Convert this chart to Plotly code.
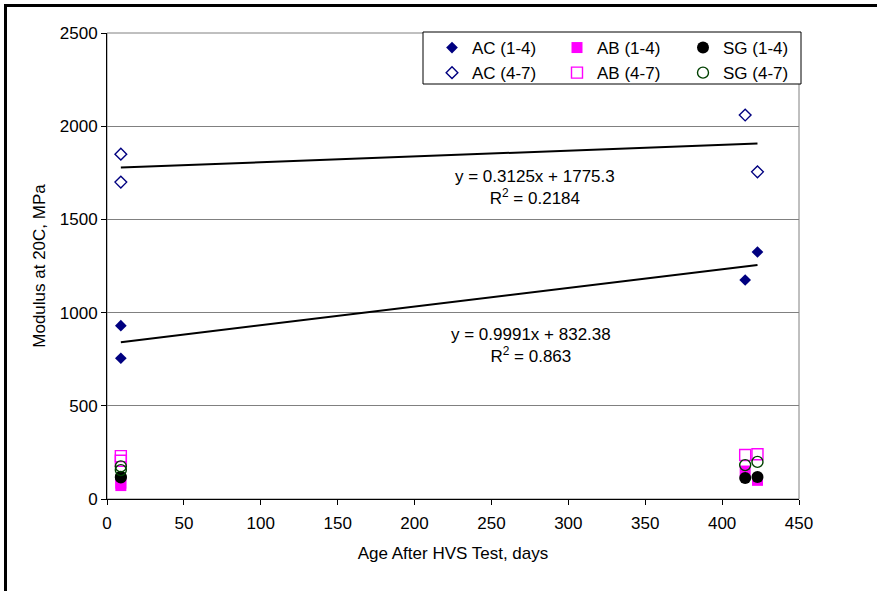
import plotly.graph_objects as go

# ---- data ----
ac14_x = [9, 9, 415, 423]
ac14_y = [930, 755, 1175, 1325]
ab14_x = [9, 9, 415, 423]
ab14_y = [85, 72, 150, 100]
sg14_x = [9, 9, 415, 423]
sg14_y = [120, 115, 113, 118]
ac47_x = [9, 9, 415, 423]
ac47_y = [1850, 1700, 2060, 1755]
ab47_x = [9, 9, 415, 423]
ab47_y = [230, 205, 236, 240]
sg47_x = [9, 9, 415, 423]
sg47_y = [175, 155, 182, 199]

trend_slope = [0.9991, 0.3125]
trend_intercept = [832.38, 1775.3]
trend_labels = ["y = 0.9991x + 832.38<br>R<sup>2</sup> = 0.863",
                "y = 0.3125x + 1775.3<br>R<sup>2</sup> = 0.2184"]

x_ticks = list(range(0, 451, 50))
y_ticks = list(range(0, 2501, 500))

FONT = "Liberation Sans, Arial, sans-serif"
FS = 17

fig = go.Figure()

def add(x, y, name, symbol, color, size, legend, fill=True):
    marker = dict(symbol=symbol, size=size, color=color)
    if not fill:
        marker["line"] = dict(color=color, width=1.4)
    fig.add_trace(go.Scatter(x=x, y=y, mode="markers", name=name, marker=marker,
                             legend=legend))

add(ac14_x, ac14_y, "AC (1-4)", "diamond", "#000080", 9, "legend")
add(ab14_x, ab14_y, "AB (1-4)", "square", "#FF00FF", 11, "legend2")
add(sg14_x, sg14_y, "SG (1-4)", "circle", "#000000", 12, "legend3")
add(ac47_x, ac47_y, "AC (4-7)", "diamond-open", "#000080", 9, "legend", fill=False)
add(ab47_x, ab47_y, "AB (4-7)", "square-open", "#FF00FF", 11, "legend2", fill=False)
add(sg47_x, sg47_y, "SG (4-7)", "circle-open", "#004000", 11, "legend3", fill=False)

# trend lines
trend_sets = [ac14_x, ac47_x]
for xs, m, b in zip(trend_sets, trend_slope, trend_intercept):
    x0, x1 = min(xs), max(xs)
    fig.add_trace(go.Scatter(x=[x0, x1], y=[m * x0 + b, m * x1 + b], mode="lines",
                             line=dict(color="black", width=2), showlegend=False,
                             hoverinfo="skip"))

# equation labels
label_pos = [(276, 826), (278, 1671)]
for (lx, ly), txt in zip(label_pos, trend_labels):
    fig.add_annotation(x=lx, y=ly, xref="x", yref="y", text=txt, showarrow=False,
                       font=dict(family=FONT, size=FS, color="black"), align="center")

W, H = 877, 591
L, R, T, B = 107, 78, 33, 92
pw, ph = W - L - R, H - T - B

def px_x(p):
    return (p - L) / pw

def px_y(p):
    return 1 - (p - T) / ph

shapes = [
    # plot-area border (grey)
    dict(type="rect", xref="paper", yref="paper", x0=0, x1=1, y0=0, y1=1,
         line=dict(color="#808080", width=1), layer="below"),
    # outer chart frame
    dict(type="rect", xref="paper", yref="paper", x0=px_x(5.5), x1=px_x(1200),
         y0=px_y(900), y1=px_y(5.5), line=dict(color="black", width=3), layer="below"),
    # legend box
    dict(type="rect", xref="paper", yref="paper", x0=px_x(423), x1=px_x(801),
         y0=px_y(84), y1=px_y(32), line=dict(color="black", width=1),
         fillcolor="white", layer="above"),
]

leg_common = dict(orientation="v", bgcolor="rgba(0,0,0,0)", borderwidth=0,
                  font=dict(family=FONT, size=FS, color="black"),
                  xanchor="left", yanchor="top", tracegroupgap=0,
                  y=px_y(30))

fig.update_layout(
    width=W, height=H,
    margin=dict(l=L, r=R, t=T, b=B, pad=0),
    paper_bgcolor="white", plot_bgcolor="white",
    font=dict(family=FONT, size=FS, color="black"),
    shapes=shapes,
    legend=dict(leg_common, x=px_x(432)),
    legend2=dict(leg_common, x=px_x(557)),
    legend3=dict(leg_common, x=px_x(683)),
    xaxis=dict(range=[0, 450], tickvals=x_ticks, ticktext=[str(v) for v in x_ticks],
               showgrid=False, zeroline=False, showline=True, linecolor="black",
               linewidth=1, ticks="outside", ticklen=5, tickcolor="black",
               ticklabelstandoff=4,
               tickfont=dict(family=FONT, size=FS, color="black"),
               title=dict(text="Age After HVS Test, days", standoff=14,
                          font=dict(family=FONT, size=FS, color="black"))),
    yaxis=dict(range=[0, 2500], tickvals=y_ticks, ticktext=[str(v) for v in y_ticks],
               showgrid=True, gridcolor="#808080", gridwidth=1, zeroline=False,
               showline=True, linecolor="black", linewidth=1, ticks="outside",
               ticklen=5, tickcolor="black",
               tickfont=dict(family=FONT, size=FS, color="black"),
               title=dict(text="Modulus at 20C, MPa", standoff=9,
                          font=dict(family=FONT, size=FS, color="black"))),
)

fig.write_html("out.html",
               config={"displayModeBar": False},
               post_script="document.body.style.margin='0';document.body.style.overflow='hidden';")
